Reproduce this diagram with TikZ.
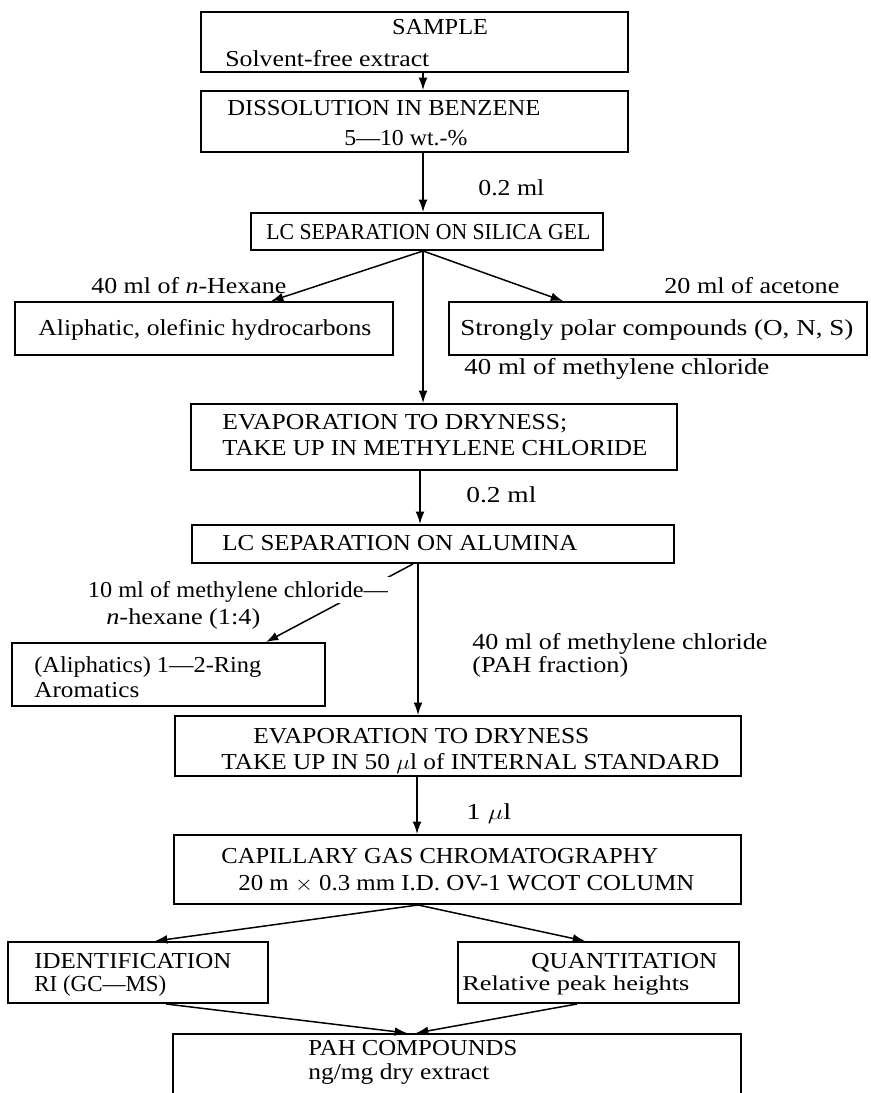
\documentclass[tikz,border=0pt]{standalone}
\usepackage{fontspec}
\usepackage{graphicx}
\setmainfont{Liberation Serif}
\usetikzlibrary{arrows.meta,fit,calc}
\newcommand\fw[2]{\resizebox{\dimexpr0.02cm*#1\relax}{\height}{#2}}
\begin{document}
\begin{tikzpicture}[x=0.02cm,y=-0.02cm,
  box/.style={draw, line width=1.1pt, inner sep=0pt},
  arr/.style={line width=0.85pt, -{Latex[length=7pt,width=5pt]}},
  lbl/.style={inner sep=0pt, anchor=west, text height=8.6pt, text depth=0pt, font=\fontsize{13}{15}\selectfont},
  lblc/.style={lbl, anchor=center},
  lblr/.style={lbl, anchor=east, fill=white, inner xsep=1pt, inner ysep=3pt}
]
\useasboundingbox[fill=white] (0,0) rectangle (870,1093);

% boxes
\node[box, fit={(201,12) (628,72)}] (sample) {};
\node[box, fit={(201,91) (628,152)}] (dis) {};
\node[box, fit={(251,213) (603,250)}] (silica) {};
\node[box, fit={(15,302) (393,355)}] (aliph) {};
\node[box, fit={(449,302) (867,355)}] (polar) {};
\node[box, fit={(191,404) (677,470)}] (evapA) {};
\node[box, fit={(192,525) (674,563)}] (alum) {};
\node[box, fit={(12,643) (325,706)}] (arom) {};
\node[box, fit={(175,716) (741,776)}] (evapB) {};
\node[box, fit={(174,835) (741,904)}] (cap) {};
\node[box, fit={(8,942) (268,1003)}] (ident) {};
\node[box, fit={(458,942) (739,1003)}] (quant) {};
\node[box, fit={(173,1034) (741,1120)}] (pah) {};

% texts in boxes
\node[lblc] (tSample) at (440,27) {\fw{96}{SAMPLE}};
\node[lbl] (tSolv) at (225,59) {\fw{204}{Solvent-free extract}};
\node[lbl] (tDis) at (227,108) {\fw{313}{DISSOLUTION IN BENZENE}};
\node[lbl] (tWt) at (344,138) {\fw{123}{5—10 wt.-\%}};
\node[lbl] (tSil) at (266,232) {\fw{324}{LC SEPARATION ON SILICA GEL}};
\node[lbl] (tAliph) at (38,328) {\fw{333}{Aliphatic, olefinic hydrocarbons}};
\node[lbl] (tPolar) at (460,328) {\fw{393}{Strongly polar compounds (O, N, S)}};
\node[lbl] (tEvA1) at (222,422) {\fw{345}{EVAPORATION TO DRYNESS;}};
\node[lbl] (tEvA2) at (222,448) {\fw{425}{TAKE UP IN METHYLENE CHLORIDE}};
\node[lbl] (tAlum) at (222,543) {\fw{355}{LC SEPARATION ON ALUMINA}};
\node[lbl] (tArom1) at (34,665) {\fw{227}{(Aliphatics) 1—2-Ring}};
\node[lbl] (tArom2) at (34,690) {\fw{105}{Aromatics}};
\node[lbl] (tEvB1) at (253,736) {\fw{336}{EVAPORATION TO DRYNESS}};
\node[lbl] (tEvB2) at (221,762) {\fw{498}{TAKE UP IN 50 $\mu$l of INTERNAL STANDARD}};
\node[lbl] (tCap1) at (221,856) {\fw{437}{CAPILLARY GAS CHROMATOGRAPHY}};
\node[lbl] (tCap2) at (238,883) {\fw{456}{20 m $\times$ 0.3 mm I.D. OV-1 WCOT COLUMN}};
\node[lbl] (tId1) at (34,961) {\fw{197}{IDENTIFICATION}};
\node[lbl] (tId2) at (34,984) {\fw{132}{RI (GC—MS)}};
\node[lbl] (tQu1) at (531,961) {\fw{186}{QUANTITATION}};
\node[lbl] (tQu2) at (462,983) {\fw{227}{\fontsize{12}{14}\selectfont Relative peak heights}};
\node[lbl] (tPah1) at (308,1048) {\fw{209}{PAH COMPOUNDS}};
\node[lbl] (tPah2) at (308,1072) {\fw{181}{ng/mg dry extract}};

% connectors
\draw[arr] ($(sample.south west)+(223,0)$) -- ($(dis.north west)+(223,0)$);
\draw[arr] ($(dis.south west)+(223,0)$) -- ($(silica.north west)+(173,0)$);
\draw[arr] ($(silica.south west)+(173,0)$) -- ($(aliph.north west)+(257,0)$);
\draw[arr] ($(silica.south west)+(173,0)$) -- ($(polar.north west)+(115,0)$);
\draw[arr] ($(silica.south west)+(173,0)$) -- ($(evapA.north west)+(233,0)$);
\draw[arr] ($(evapA.south west)+(230,0)$) -- ($(alum.north west)+(229,0)$);
\draw[arr] ($(alum.south west)+(222,0)$) -- ($(arom.north west)+(255,0)$);
\draw[arr] ($(alum.south west)+(227,0)$) -- ($(evapB.north west)+(244,0)$);
\draw[arr] ($(evapB.south west)+(243,0)$) -- ($(cap.north west)+(244,0)$);
\draw[arr] ($(cap.south west)+(245,0)$) -- ($(ident.north west)+(148,0)$);
\draw[arr] ($(cap.south west)+(245,0)$) -- ($(quant.north west)+(128,0)$);
\draw[arr] ($(ident.south west)+(159,0)$) -- ($(pah.north west)+(235,0)$);
\draw[arr] ($(quant.south west)+(120,0)$) -- ($(pah.north west)+(244,0)$);

% connector labels
\node[lbl] (l1) at (478,188) {\fw{66}{0.2 ml}};
\node[lbl] (l2) at (91,286) {\fw{195}{40 ml of \textit{n}-Hexane}};
\node[lbl] (l3) at (664,286) {\fw{175}{20 ml of acetone}};
\node[lbl] (l4) at (464,367) {\fw{305}{40 ml of methylene chloride}};
\node[lbl] (l5) at (466,495) {\fw{70}{0.2 ml}};
\node[lblr] (l6) at (390,590) {\fw{300}{10 ml of methylene chloride—}};
\node[lbl] (l7) at (106,617) {\fw{154}{\textit{n}-hexane (1:4)}};
\node[lbl] (l8) at (472,642) {\fw{295}{40 ml of methylene chloride}};
\node[lbl] (l9) at (472,665) {\fw{156}{(PAH fraction)}};
\node[lbl] (l10) at (466,812) {\fw{45}{1 $\mu$l}};
\end{tikzpicture}
\end{document}
